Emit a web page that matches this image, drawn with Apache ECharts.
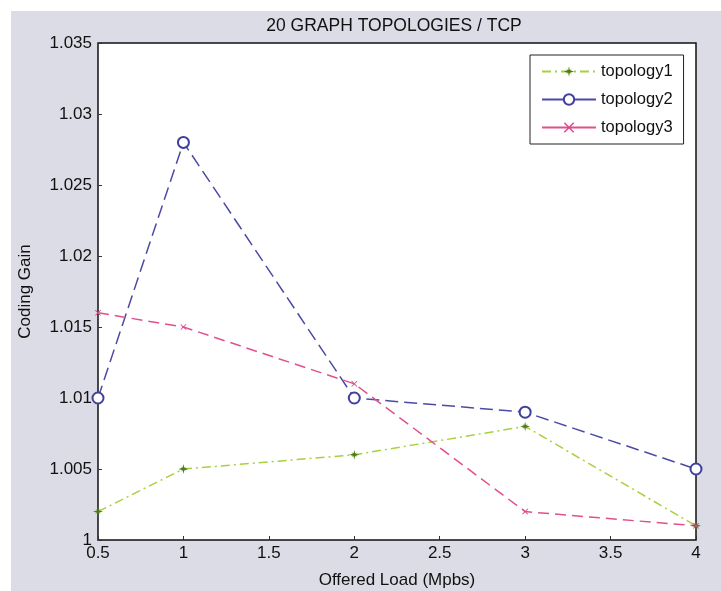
<!DOCTYPE html>
<html><head><meta charset="utf-8">
<script src="https://cdn.jsdelivr.net/npm/echarts@6/dist/echarts.min.js"></script>
<style>html,body{margin:0;padding:0;background:#fff}#c{width:721px;height:591px}</style>
</head><body><div id="c"></div>
<script>
const loads = [0.5, 1, 2, 3, 4];
const topology1 = [1.002, 1.005, 1.006, 1.008, 1.001];
const topology2 = [1.010, 1.028, 1.010, 1.009, 1.005];
const topology3 = [1.016, 1.015, 1.011, 1.002, 1.001];
const seriesNames = ['topology1', 'topology2', 'topology3'];
const titleText = '20 GRAPH TOPOLOGIES / TCP';
const xName = 'Offered Load (Mpbs)';
const yName = 'Coding Gain';

const pair = (ys) => loads.map((x, i) => [x, ys[i]]);
const starPath = 'path://M50,0 L58,38 L100,50 L58,62 L50,100 L42,62 L0,50 L42,38 Z M20,20 L50,45 L80,20 L55,50 L80,80 L50,55 L20,80 L45,50 Z';
const xPath = 'path://M0,10 L10,0 L50,40 L90,0 L100,10 L60,50 L100,90 L90,100 L50,60 L10,100 L0,90 L40,50 Z';
const font = 'Liberation Sans, Arial, sans-serif';

const chart = echarts.init(document.getElementById('c'), null, {renderer: 'canvas'});
chart.setOption({
  backgroundColor: '#dcdce6',
  animation: false,
  graphic: [
    {type: 'rect', shape: {x: 0, y: 0, width: 721, height: 11}, style: {fill: '#ffffff'}, silent: true},
    {type: 'rect', shape: {x: 0, y: 0, width: 11, height: 591}, style: {fill: '#ffffff'}, silent: true}
  ],
  title: {
    text: titleText, left: 389, top: 12, textAlign: 'center',
    textStyle: {fontFamily: font, fontSize: 17.5, fontWeight: 'normal', color: '#111'}
  },
  grid: {left: 98, right: 25, top: 43, bottom: 51, outerBoundsMode: 'none', containLabel: false,
    show: true, backgroundColor: '#ffffff', borderColor: '#111', borderWidth: 1.5},
  legend: {
    orient: 'vertical', left: 530, top: 55,
    backgroundColor: '#ffffff', borderColor: '#222', borderWidth: 1,
    padding: [8, 11, 8, 11], itemGap: 11, itemWidth: 54, itemHeight: 13,
    textStyle: {fontFamily: font, fontSize: 16.5, color: '#111'},
    data: [
      {name: seriesNames[0]},
      {name: seriesNames[1], lineStyle: {type: 'solid'}},
      {name: seriesNames[2], lineStyle: {type: 'solid'}}
    ]
  },
  xAxis: {
    type: 'value', min: 0.5, max: 4, interval: 0.5,
    name: xName, nameLocation: 'middle', nameGap: 32,
    nameTextStyle: {fontFamily: font, fontSize: 17, color: '#111'},
    axisLine: {show: false},
    axisTick: {show: true, inside: true, length: 4, lineStyle: {color: '#333'}},
    splitLine: {show: false},
    axisLabel: {fontFamily: font, fontSize: 17, color: '#111', margin: 5,
      formatter: v => String(Math.round(v * 10) / 10)}
  },
  yAxis: {
    type: 'value', min: 1, max: 1.035, interval: 0.005,
    name: yName, nameLocation: 'middle', nameGap: 64,
    nameTextStyle: {fontFamily: font, fontSize: 17, color: '#111'},
    axisLine: {show: false},
    axisTick: {show: true, inside: true, length: 4, lineStyle: {color: '#333'}},
    splitLine: {show: false},
    axisLabel: {fontFamily: font, fontSize: 17, color: '#111', margin: 6,
      formatter: v => String(Math.round(v * 1000) / 1000)}
  },
  series: [
    {
      name: seriesNames[0], type: 'line', data: pair(topology1),
      symbol: starPath, symbolSize: 10,
      itemStyle: {color: '#4f7d14'},
      lineStyle: {color: '#a8d040', width: 1.5, type: [9, 4, 2, 4]}
    },
    {
      name: seriesNames[1], type: 'line', data: pair(topology2),
      symbol: 'emptyCircle', symbolSize: 11,
      itemStyle: {color: '#3f3f9e', borderWidth: 1.5},
      lineStyle: {color: '#4a4aa8', width: 1.5, type: [13, 6]}
    },
    {
      name: seriesNames[2], type: 'line', data: pair(topology3),
      symbol: xPath, symbolSize: 6,
      itemStyle: {color: '#d84a86'},
      lineStyle: {color: '#e0508e', width: 1.5, type: [11, 6]}
    }
  ]
});
</script></body></html>
